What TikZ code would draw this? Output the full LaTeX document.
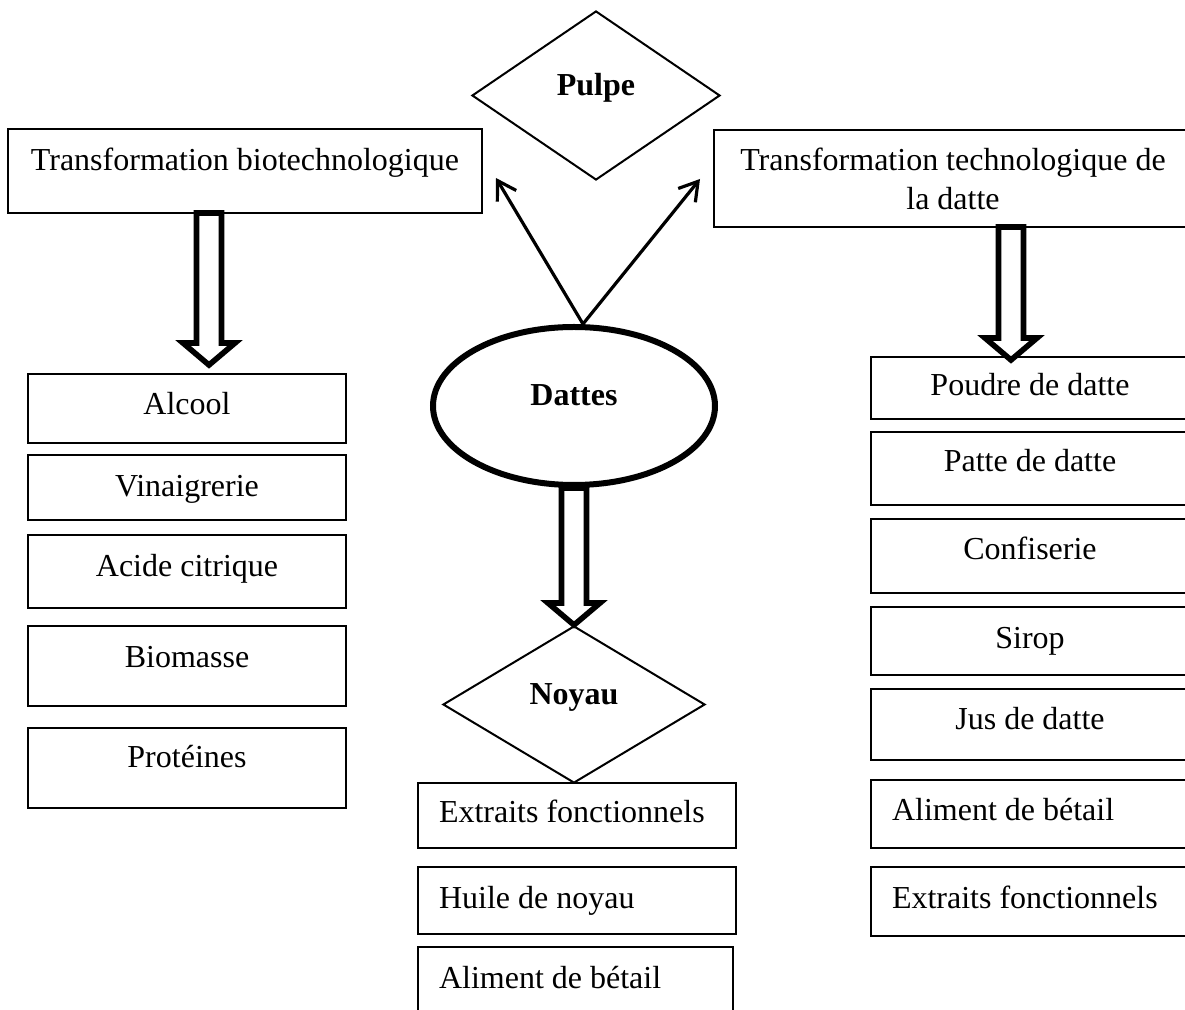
\documentclass[tikz,border=0pt]{standalone}
\usepackage{fontspec}
\setmainfont{Liberation Serif}
\usetikzlibrary{shapes.geometric,arrows.meta,calc}
\newcommand\hollowdown[2]{\draw[xharrow] let \p1=(#1), \p2=(#2) in
  (\x1-6.25pt,\y1) -- (\x1-6.25pt,\y2+11pt) -- (\x1-13pt,\y2+11pt) -- (\x1,\y2)
  -- (\x1+13pt,\y2+11pt) -- (\x1+6.25pt,\y2+11pt) -- (\x1+6.25pt,\y1) -- cycle;}
\begin{document}
\begin{tikzpicture}[x=0.5pt,y=-0.5pt,
  every node/.style={font=\fontsize{16pt}{19.5pt}\selectfont},
  xbold/.style={font=\fontsize{16pt}{19.5pt}\selectfont\bfseries},
  xbox/.style={draw, line width=1.2pt, rectangle, inner xsep=0pt, inner ysep=0pt,
    minimum width=159pt, anchor=base},
  xlbox/.style={xbox, text width=138pt, align=flush left, inner xsep=10.5pt},
  xdiam/.style={diamond, draw, line width=1pt, inner sep=0pt, text height=6pt, text depth=6pt, xbold},
  xharrow/.style={draw, line width=2.8pt, line join=miter},
  xthin/.style={line width=1.6pt, -{Straight Barb[length=9pt,width=11pt]}}]
\useasboundingbox (0,0) rectangle (1185,1010);

% top boxes
\node[xbox, text height=21pt, text depth=21pt, minimum width=237pt] (tb) at (245,171) {Transformation biotechnologique};
\node[draw, line width=1.2pt, minimum width=239pt, minimum height=48.5pt, align=center, inner sep=0pt] (tt) at (953,178.5) {Transformation technologique de\\la datte};

% centre shapes
\node[xdiam, minimum width=124pt, minimum height=84.5pt] (pul) at (596,95.5) {Pulpe};
\node[ellipse, draw, line width=3pt, minimum width=141pt, minimum height=79pt, inner sep=0pt, text height=6pt, text depth=6pt, xbold] (dat) at (574,406) {Dattes};
\node[xdiam, minimum width=131pt, minimum height=78.5pt] (noy) at (574,704.5) {Noyau};

% left column
\node[xbox, text height=20.5pt, text depth=14pt] (alc) at (187,415) {Alcool};
\node[xbox, text height=21pt, text depth=11.5pt] (vin) at (187,497) {Vinaigrerie};
\node[xbox, text height=21pt, text depth=15.5pt] (aci) at (187,577) {Acide citrique};
\node[xbox, text height=21pt, text depth=19pt] (bio) at (187,668) {Biomasse};
\node[xbox, text height=20pt, text depth=20pt] (pro) at (187,768) {Protéines};

% right column
\node[xbox, text height=19.5pt, text depth=11.5pt] (pou) at (1030,396) {Poudre de datte};
\node[xbox, text height=20pt, text depth=16.5pt] (pat) at (1030,472) {Patte de datte};
\node[xbox, text height=20.5pt, text depth=16.5pt] (con) at (1030,560) {Confiserie};
\node[xbox, text height=21pt, text depth=13pt] (sir) at (1030,649) {Sirop};
\node[xbox, text height=20.5pt, text depth=15pt] (jus) at (1030,730) {Jus de datte};
\node[xlbox, text height=20pt, text depth=14pt] (rali) at (1030,820) {Aliment de bétail};
\node[xlbox, text height=20.5pt, text depth=14pt] (rext) at (1030,908) {Extraits fonctionnels};

% middle column
\node[xlbox, text height=20pt, text depth=12.5pt] (mext) at (577,823) {Extraits fonctionnels};
\node[xlbox, text height=20.5pt, text depth=13pt] (mhui) at (577,908) {Huile de noyau};
\node[xlbox, text height=20.5pt, text depth=12.5pt, minimum width=157.5pt, text width=136.5pt] (mali) at (575.5,988) {Aliment de bétail};

% thin arrows from Dattes
\coordinate (dtop) at ($(dat.north)+(9,0)$);
\coordinate (pl) at (496,178);
\coordinate (pr) at (700,179);
\draw[xthin] (dtop) -- (pl);
\draw[xthin] (dtop) -- (pr);

% hollow arrows
\coordinate (a1s) at (209,213);
\coordinate (a1t) at (209,365);
\coordinate (a3s) at (1011,227);
\coordinate (a3t) at (1011,360);
\hollowdown{a1s}{a1t}
\hollowdown{dat.south}{noy.north}
\hollowdown{a3s}{a3t}
\end{tikzpicture}
\end{document}
